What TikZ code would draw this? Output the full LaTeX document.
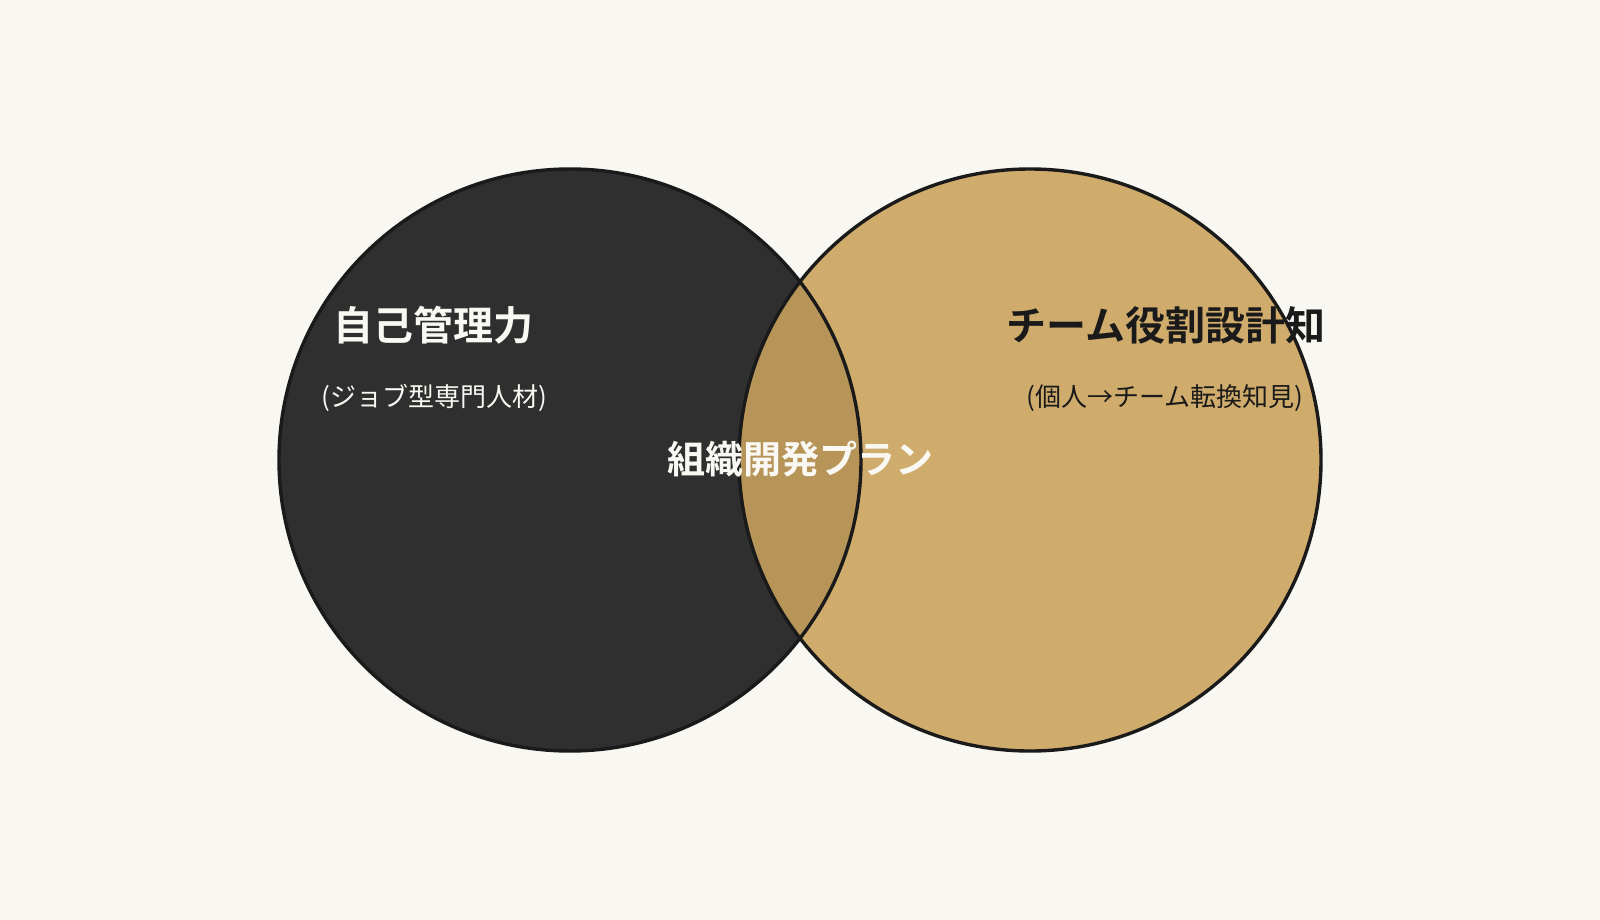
\documentclass[tikz,border=0pt]{standalone}
\usepackage{fontspec}
\newfontfamily\jp{Noto Sans CJK JP}
\newfontfamily\jpb{Noto Sans CJK JP Bold}
\definecolor{bgc}{HTML}{F8F7F2}
\definecolor{darkc}{HTML}{2F2F2F}
\definecolor{tanc}{HTML}{CFAC6C}
\definecolor{midc}{HTML}{B79458}
\definecolor{linec}{HTML}{1A1A1A}
\definecolor{wtext}{HTML}{FAF8F2}
\tikzset{
  ring/.style={draw=linec, line width=3.4pt},
  title/.style={font=\jpb\fontsize{40}{46}\selectfont, inner sep=0pt},
  midtitle/.style={font=\jpb\fontsize{38}{44}\selectfont, inner sep=0pt},
  sub/.style={font=\jp\fontsize{26}{31}\selectfont, inner sep=0pt},
}
\begin{document}
\begin{tikzpicture}[x=1pt,y=-1pt]
\fill[bgc] (0,0) rectangle (1600,920);
\useasboundingbox (0,0) rectangle (1600,920);
\coordinate (cl) at (570,460);
\coordinate (cr) at (1030,460);
\fill[darkc] (cl) circle[radius=291];
\fill[tanc] (cr) circle[radius=291];
\begin{scope}
\clip (cl) circle[radius=291];
\fill[midc] (cr) circle[radius=291];
\end{scope}
\draw[ring] (cl) circle[radius=291];
\draw[ring] (cr) circle[radius=291];
\node[title, text=wtext] (ta) at (433,325) {自己管理力};
\node[sub, text=wtext] (sa) at (434,398) {(ジョブ型専門人材)};
\node[title, text=linec] (tb) at (1166,325) {チーム役割設計知};
\node[sub, text=linec] (sb) at (1165,398) {(個人→チーム転換知見)};
\node[midtitle, text=wtext] (tc) at (800,459) {組織開発プラン};
\end{tikzpicture}
\end{document}
